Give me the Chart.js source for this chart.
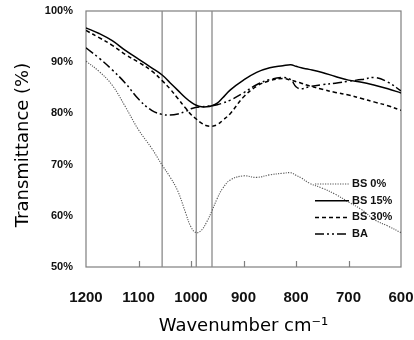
<!DOCTYPE html>
<html>
<head>
<meta charset="utf-8">
<title>Transmittance</title>
<script src="https://cdn.jsdelivr.net/npm/chart.js@4/dist/chart.umd.min.js"></script>
<style>
  body { margin: 0; background: #fff; }
  #ftir { display: block; }
</style>
</head>
<body>
<canvas id="ftir" width="414" height="340"></canvas>
<script>
// data (wavenumber in cm-1, transmittance in %)
const wavenumbers = [1200, 1175, 1150, 1125, 1100, 1075, 1055, 1040, 1025, 1010, 1000, 990, 980, 970, 960, 950, 940, 925, 900, 875, 850, 825, 810, 800, 790, 775, 750, 725, 700, 675, 650, 625, 600];
const bs0 = [90.2, 88.2, 85.5, 81.3, 76.8, 73.2, 69.9, 67.6, 64.8, 60.5, 57.8, 56.7, 57.2, 58.8, 61.0, 63.4, 65.3, 67.0, 67.8, 67.5, 68.0, 68.3, 68.4, 67.9, 67.4, 66.4, 65.4, 64.2, 62.7, 61.2, 59.2, 58.0, 56.7];
const bs15 = [96.7, 95.6, 94.2, 92.3, 90.6, 88.9, 87.5, 86.0, 84.5, 83.0, 82.2, 81.6, 81.3, 81.3, 81.5, 82.0, 83.0, 84.6, 86.5, 88.0, 88.9, 89.3, 89.5, 89.2, 88.9, 88.6, 88.0, 87.2, 86.5, 86.1, 85.5, 84.8, 84.0];
const bs30 = [96.2, 94.8, 93.3, 91.5, 90.0, 88.3, 86.4, 84.8, 82.9, 81.0, 79.8, 78.9, 78.1, 77.6, 77.5, 77.8, 78.6, 80.0, 83.2, 85.3, 86.4, 86.8, 86.5, 86.2, 85.9, 85.4, 84.7, 84.1, 83.6, 82.9, 82.2, 81.5, 80.6];
const ba = [92.8, 90.8, 88.5, 85.9, 82.8, 80.6, 79.8, 79.7, 79.9, 80.4, 80.9, 81.2, 81.3, 81.4, 81.5, 81.7, 82.0, 82.6, 84.0, 85.6, 86.6, 87.0, 86.6, 85.2, 84.8, 85.2, 85.6, 85.9, 86.3, 86.6, 87.0, 86.1, 84.4];

const seriesNames = ["BS 0%", "BS 15%", "BS 30%", "BA"];
const markers = [1055, 990, 960]; // vertical reference lines
const xTicks = [1200, 1100, 1000, 900, 800, 700, 600];
const yTicks = [50, 60, 70, 80, 90, 100];

function pts(values) {
  return wavenumbers.map(function (w, i) {
    return { x: w, y: values[i] };
  });
}

var styles = [
  { color: "#555", width: 1.1, dash: [1.2, 1.3] },
  { color: "#000", width: 1.5, dash: [] },
  { color: "#000", width: 1.5, dash: [4, 3] },
  { color: "#000", width: 1.5, dash: [9, 3, 2, 3, 2, 3] },
];
var seriesValues = [bs0, bs15, bs30, ba];

var datasets = seriesValues.map(function (vals, i) {
  return {
    label: seriesNames[i],
    data: pts(vals),
    borderColor: styles[i].color,
    borderWidth: styles[i].width,
    borderDash: styles[i].dash,
    pointRadius: 0,
    fill: false,
    tension: 0.4,
    order: 1,
  };
});

// gray vertical marker lines
markers.forEach(function (m) {
  datasets.push({
    label: "marker",
    data: [{ x: m, y: 50 }, { x: m, y: 100 }],
    borderColor: "#8a8a8a",
    borderWidth: 1.3,
    pointRadius: 0,
    fill: false,
    order: 5,
  });
});

// plot frame + inner ticks + y title + legend
const frame = {
  id: "frame",
  beforeDatasetsDraw(chart) {
    const ctx = chart.ctx;
    const a = chart.chartArea;
    const xs = chart.scales.x;
    ctx.save();
    ctx.strokeStyle = "#7f7f7f";
    ctx.lineWidth = 1.2;
    ctx.strokeRect(a.left, a.top, a.right - a.left, a.bottom - a.top);
    xTicks.slice(1, -1).forEach(function (t) {
      var px = Math.round(xs.getPixelForValue(t)) + 0.5;
      ctx.beginPath();
      ctx.moveTo(px, a.bottom);
      ctx.lineTo(px, a.bottom - 6);
      ctx.stroke();
    });
    // y axis title
    ctx.translate(a.left - 63, (a.top + a.bottom) / 2 + 6);
    ctx.rotate(-Math.PI / 2);
    ctx.font = "18px 'DejaVu Sans', sans-serif";
    ctx.fillStyle = "#000";
    ctx.textAlign = "center";
    ctx.textBaseline = "middle";
    ctx.fillText("Transmittance (%)", 0, 0);
    ctx.restore();
  },
  afterDatasetsDraw(chart) {
    const ctx = chart.ctx;
    const a = chart.chartArea;
    ctx.save();
    ctx.font = "bold 11px 'Liberation Sans', Arial, sans-serif";
    ctx.textBaseline = "middle";
    ctx.fillStyle = "#111";
    seriesNames.forEach(function (name, i) {
      var y = a.top + 173 + i * 16.7;
      var x0 = a.right - 86;
      ctx.strokeStyle = styles[i].color;
      ctx.lineWidth = styles[i].width;
      ctx.setLineDash(styles[i].dash);
      ctx.beginPath();
      ctx.moveTo(x0, y);
      ctx.lineTo(x0 + 34, y);
      ctx.stroke();
      ctx.fillText(name, x0 + 37, y);
    });
    ctx.restore();
  },
};

var chart = new Chart(document.getElementById("ftir"), {
  type: "line",
  data: { datasets: datasets },
  options: {
    responsive: false,
    animation: false,
    layout: { padding: { top: 11, right: 13, left: 0, bottom: 0 } },
    plugins: {
      legend: { display: false },
      tooltip: { enabled: false },
    },
    scales: {
      x: {
        type: "linear",
        reverse: true,
        min: 600,
        max: 1200,
        afterBuildTicks: function (s) {
          s.ticks = xTicks.map(function (v) { return { value: v }; });
        },
        afterFit: function (s) { s.height = 73; },
        grid: { display: false, tickLength: 22 },
        border: { display: false },
        ticks: {
          color: "#111",
          padding: 0,
          font: { family: "'Liberation Sans', Arial, sans-serif", size: 15, weight: "bold" },
          callback: function (v) { return String(v); },
        },
        title: {
          display: true,
          text: "Wavenumber cm⁻¹",
          color: "#000",
          padding: { top: 0, bottom: 3 },
          font: { family: "'DejaVu Sans', sans-serif", size: 18 },
        },
      },
      y: {
        min: 50,
        max: 100,
        afterBuildTicks: function (s) {
          s.ticks = yTicks.map(function (v) { return { value: v }; });
        },
        afterFit: function (s) { s.width = 86; },
        grid: { display: false, tickLength: 13 },
        border: { display: false },
        ticks: {
          color: "#111",
          padding: 0,
          font: { family: "'Liberation Sans', Arial, sans-serif", size: 11, weight: "bold" },
          callback: function (v) { return v + "%"; },
        },
      },
    },
  },
  plugins: [frame],
});
</script>
</body>
</html>
